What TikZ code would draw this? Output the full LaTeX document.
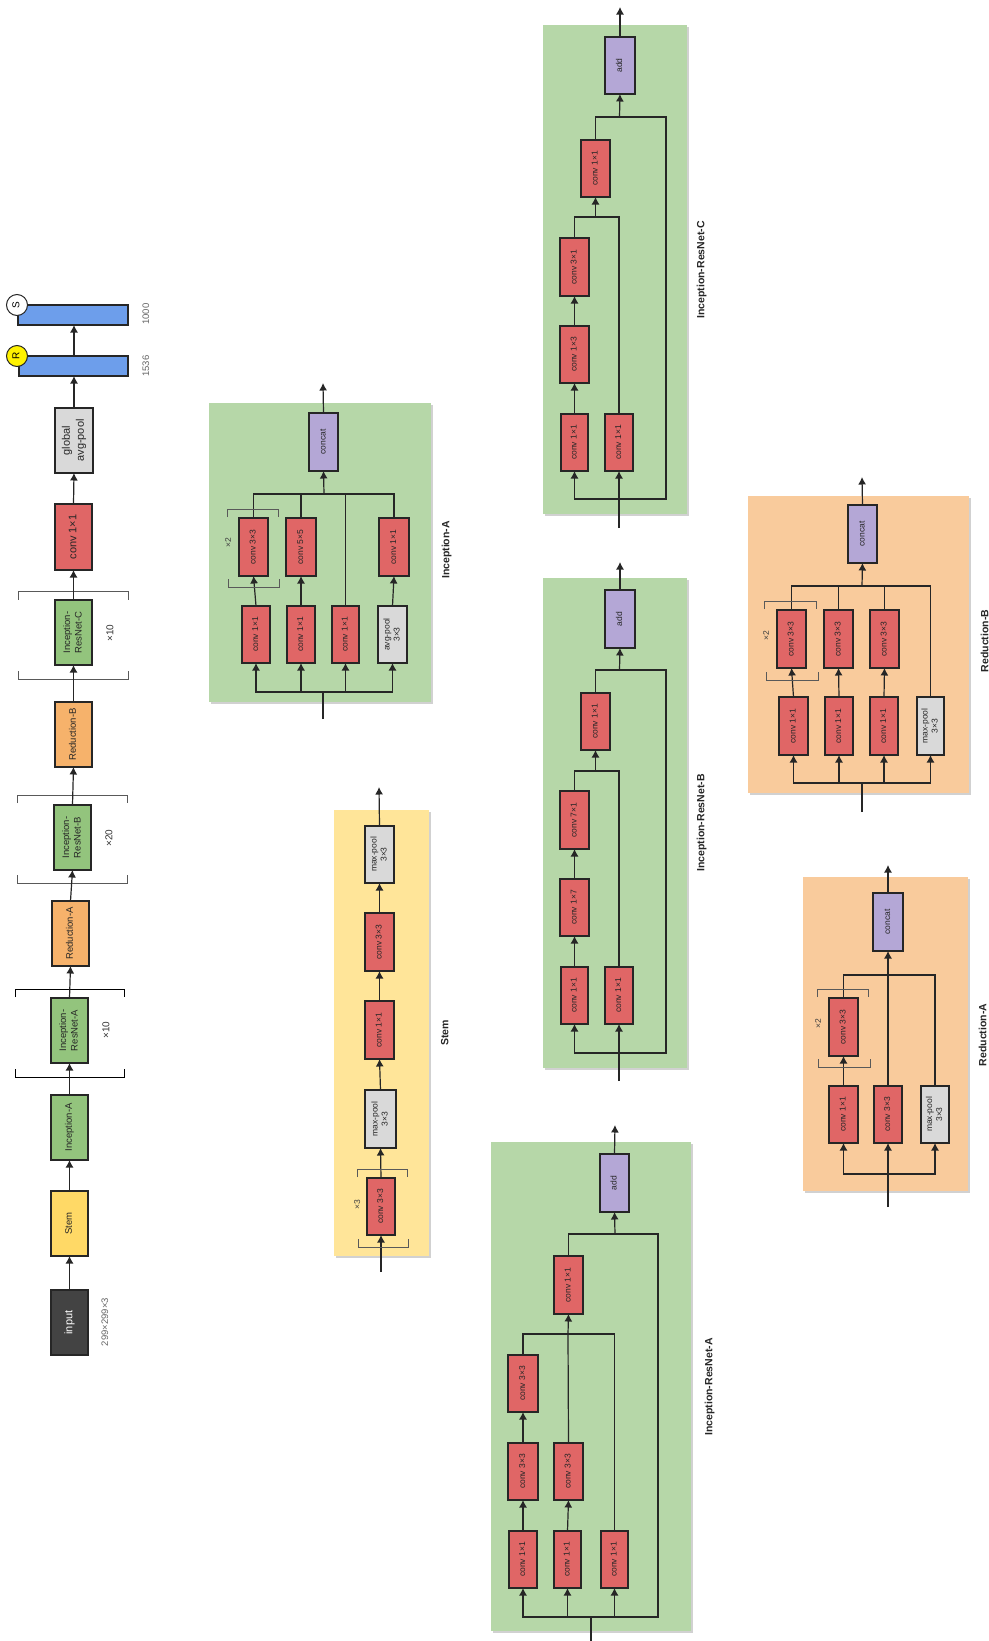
\documentclass[tikz,border=0pt]{standalone}
\usepackage{fontspec}
\setmainfont{Liberation Sans}
\usetikzlibrary{arrows.meta,shadows}
\definecolor{cred}{HTML}{E06666}
\definecolor{cgreen}{HTML}{93C47D}
\definecolor{corange}{HTML}{F6B26B}
\definecolor{cyellow}{HTML}{FFD966}
\definecolor{cgray}{HTML}{D9D9D9}
\definecolor{cpurple}{HTML}{B4A7D6}
\definecolor{cdark}{HTML}{434343}
\definecolor{cblue}{HTML}{6D9EEB}
\definecolor{pgreen}{HTML}{B6D7A8}
\definecolor{porange}{HTML}{F9CB9C}
\definecolor{pyellow}{HTML}{FFE599}
\definecolor{cline}{HTML}{262626}
\newcommand\rt[1]{\rotatebox{90}{\begin{tabular}{@{}c@{}}#1\end{tabular}}}
\newcommand\fsmall{\fontsize{8.5}{10}\selectfont}
\newcommand\fmid{\fontsize{9.5}{11.5}\selectfont}
\newcommand\fbig{\fontsize{11}{14}\selectfont}
% name, style, x1, x2, y1, y2, text
\newcommand\bx[7]{%
  \pgfmathsetmacro\bcx{(#3+#4)/2}\pgfmathsetmacro\bcy{(#5+#6)/2}%
  \pgfmathsetmacro\bw{#4-#3}\pgfmathsetmacro\bh{#6-#5}%
  \node[box,#2,minimum width=\bw pt,minimum height=\bh pt] (#1) at (\bcx,\bcy) {\rt{#7}};}
\newcommand\panel[6]{%
  \pgfmathsetmacro\bcx{(#3+#4)/2}\pgfmathsetmacro\bcy{(#5+#6)/2}%
  \pgfmathsetmacro\bw{#4-#3}\pgfmathsetmacro\bh{#6-#5}%
  \node[pan,fill=#2,minimum width=\bw pt,minimum height=\bh pt] (#1) at (\bcx,\bcy) {};}
% top bracket and bottom bracket: x1,x2,y top; x1,x2,y bottom
\newcommand\brk[7][]{%
  \draw[brkline,#1] (#2,#4+8) -- (#2,#4) -- (#3,#4) -- (#3,#4+8);
  \draw[brkline,#1] (#5,#7-8) -- (#5,#7) -- (#6,#7) -- (#6,#7-8);}
\tikzset{
  box/.style={draw=cline,line width=1.2pt,inner sep=0pt,outer sep=0pt,text=black!85,
    drop shadow={shadow xshift=1.2pt,shadow yshift=-1.2pt,opacity=.35,fill=black}},
  pan/.style={inner sep=0pt,outer sep=0pt,
    drop shadow={shadow xshift=1.5pt,shadow yshift=-1.5pt,opacity=.18,fill=black}},
  conv/.style={fill=cred,font=\fsmall},
  pool/.style={fill=cgray,font=\fsmall},
  merge/.style={fill=cpurple,font=\fsmall},
  ln/.style={draw=cline,line width=1.2pt},
  arr/.style={ln,-{Latex[length=7.5pt,width=8pt]}},
  brkline/.style={draw=black!65,line width=.6pt},
  ttl/.style={font=\fontsize{10.5}{12}\selectfont\bfseries,inner sep=0pt,text=black!85},
  cnt/.style={font=\fsmall,inner sep=0pt,text=black!75},
  dim/.style={font=\fontsize{9.5}{11}\selectfont,inner sep=0pt,text=black!60},
  tag/.style={circle,draw=cline,line width=1pt,inner sep=0pt,minimum size=21pt,font=\fontsize{10}{12}\selectfont},
}
\begin{document}
\begin{tikzpicture}[x=1pt,y=-1pt]
\useasboundingbox (0,0) rectangle (988,1641);

% ===== overview column =====
\bx{input}{fill=cdark,text=white,font=\fbig}{51}{88}{1290}{1355}{input}
\bx{ostem}{fill=cyellow,font=\fmid}{51}{88}{1191}{1256}{Stem}
\bx{oia}{fill=cgreen,font=\fmid}{51}{88}{1095}{1160}{Inception-A}
\bx{oira}{fill=cgreen,font=\fmid}{51}{88}{998}{1063}{Inception-\\ResNet-A}
\bx{ora}{fill=corange,font=\fmid}{52}{89}{901}{966}{Reduction-A}
\bx{oirb}{fill=cgreen,font=\fmid}{54}{91}{805}{870}{Inception-\\ResNet-B}
\bx{orb}{fill=corange,font=\fmid}{55}{92}{702}{767}{Reduction-B}
\bx{oirc}{fill=cgreen,font=\fmid}{55}{92}{600}{665}{Inception-\\ResNet-C}
\bx{oconv}{fill=cred,font=\fbig}{55}{92}{504}{570}{conv 1×1}
\bx{ogap}{fill=cgray,font=\fbig}{55}{93}{408}{473}{global\\avg-pool}
\bx{ob1}{fill=cblue}{19}{128}{356}{376}{}
\bx{ob2}{fill=cblue}{18}{128}{305}{325}{}
\node[tag,fill=yellow] (tagr) at (17,356) {\rt{R}};
\node[tag,fill=white] (tags) at (17,305) {\rt{S}};
\node[dim] (n1536) at (147,366) {\rt{1536}};
\node[dim] (n1000) at (147,314) {\rt{1000}};
\node[dim] (ninput) at (106,1322) {\rt{299×299×3}};
\node[dim,text=black!80,font=\fontsize{10}{12}\selectfont] (x10a) at (107,1030) {\rt{×10}};
\node[dim,text=black!80,font=\fontsize{10}{12}\selectfont] (x20) at (110,838) {\rt{×20}};
\node[dim,text=black!80,font=\fontsize{10}{12}\selectfont] (x10c) at (111,633) {\rt{×10}};
\brk[draw=black,line width=.8pt]{15}{124}{989}{15}{124}{1077}
\brk{17}{127}{795}{17}{127}{883}
\brk{18}{128}{591.5}{18}{128}{679}
\draw[arr] (input.north) -- (ostem.south);
\draw[arr] (ostem.north) -- (oia.south);
\draw[arr] (oia.north) -- (oira.south);
\draw[arr] (oira.north) -- (ora.south);
\draw[arr] (ora.north) -- (oirb.south);
\draw[arr] (oirb.north) -- (orb.south);
\draw[arr] (orb.north) -- (oirc.south);
\draw[arr] (oirc.north) -- (oconv.south);
\draw[arr] (oconv.north) -- (ogap.south);
\draw[arr] (ogap.north) -- (ogap.north |- ob1.south);
\draw[arr] (ogap.north |- ob1.north) -- (ogap.north |- ob2.south);

% ===== Stem =====
\panel{pstem}{pyellow}{334}{429}{810}{1256}
\bx{s1}{conv}{367}{395}{1178}{1235}{conv 3×3}
\bx{s2}{pool}{365}{396}{1090}{1148}{max-pool\\3×3}
\bx{s3}{conv}{365}{394}{1001}{1059}{conv 1×1}
\bx{s4}{conv}{365}{394}{913}{971}{conv 3×3}
\bx{s5}{pool}{365}{394}{826}{883}{max-pool\\3×3}
\coordinate (sin) at (381,1272);
\coordinate (sout) at (379,787);
\draw[arr] (sin) -- (s1.south);
\draw[arr] (s1.north) -- (s2.south);
\draw[arr] (s2.north) -- (s3.south);
\draw[arr] (s3.north) -- (s4.south);
\draw[arr] (s4.north) -- (s5.south);
\draw[arr] (s5.north) -- (sout);
\brk{357}{407}{1169}{358}{408}{1247}
\node[cnt] (sx) at (358,1205) {\rt{×3}};
\node[ttl] (stl) at (446,1033) {\rt{Stem}};

% ===== Inception-A =====
\panel{pia}{pgreen}{209}{431}{403}{702}
\bx{iac}{merge}{309}{338}{413}{471}{concat}
\bx{ia1}{conv}{239}{268}{518}{576}{conv 3×3}
\bx{ia2}{conv}{286}{316}{518}{576}{conv 5×5}
\bx{ia3}{conv}{379}{409}{518}{576}{conv 1×1}
\bx{ib1}{conv}{242}{270}{606}{663}{conv 1×1}
\bx{ib2}{conv}{287}{315}{606}{663}{conv 1×1}
\bx{ib3}{conv}{332}{359}{606}{663}{conv 1×1}
\bx{ib4}{pool}{378}{407}{606}{663}{avg-pool\\3×3}
\coordinate (iam) at (324,494);
\coordinate (ias) at (323,692);
\coordinate (iain) at (323,719);
\coordinate (iaout) at (323,383);
\draw[ln] (iain) -- (ias);
\draw[arr] (ias) -| (ib1.south);
\draw[arr] (ias) -| (ib2.south);
\draw[arr] (ias) -| (ib3.south);
\draw[arr] (ias) -| (ib4.south);
\draw[arr] (ib1.north) -- (ia1.south);
\draw[arr] (ib2.north) -- (ia2.south);
\draw[arr] (ib4.north) -- (ia3.south);
\draw[ln] (ia1.north) |- (iam);
\draw[ln] (ia2.north) |- (iam);
\draw[ln] (ib3.north) |- (iam);
\draw[ln] (ia3.north) |- (iam);
\draw[arr] (iam) -- (iac.south);
\draw[arr] (iac.north) -- (iaout);
\brk{227}{278}{509}{228}{279}{587}
\node[cnt] (iax) at (229,543) {\rt{×2}};
\node[ttl] (iat) at (447,550) {\rt{Inception-A}};

% ===== Inception-ResNet-A =====
\panel{pra}{pgreen}{491}{691}{1142}{1631}
\bx{raadd}{merge}{600}{629}{1154}{1212}{add}
\bx{rat}{conv}{554}{583}{1256}{1314}{conv 1×1}
\bx{ra1}{conv}{508}{538}{1355}{1412}{conv 3×3}
\bx{ra2}{conv}{508}{538}{1443}{1500}{conv 3×3}
\bx{ra3}{conv}{554}{583}{1443}{1500}{conv 3×3}
\bx{ra4}{conv}{509}{537}{1531}{1588}{conv 1×1}
\bx{ra5}{conv}{554}{581}{1531}{1588}{conv 1×1}
\bx{ra6}{conv}{601}{628}{1531}{1588}{conv 1×1}
\coordinate (ram) at (568,1334);
\coordinate (ram2) at (615,1234);
\coordinate (ras) at (591,1617);
\coordinate (rain) at (591,1641);
\coordinate (raout) at (615,1125);
\coordinate (rar) at (658,1617);
\coordinate (rar2) at (658,1234);
\draw[ln,line width=1.6pt] (rain) -- (ras);
\draw[arr] (ras) -| (ra4.south);
\draw[arr] (ras) -| (ra5.south);
\draw[arr] (ras) -| (ra6.south);
\draw[ln] (ras) -- (rar) -- (rar2) -- (ram2);
\draw[arr] (ra4.north) -- (ra2.south);
\draw[arr] (ra5.north) -- (ra3.south);
\draw[arr] (ra2.north) -- (ra1.south);
\draw[ln] (ra1.north) |- (ram);
\draw[ln] (ra6.north) |- (ram);
\draw[ln] (ra3.north) -- (ram);
\draw[arr] (ram) -- (rat.south);
\draw[ln] (rat.north) |- (ram2);
\draw[arr] (ram2) -- (raadd.south);
\draw[arr] (raadd.north) -- (raout);
\node[ttl] (rat2) at (710,1387) {\rt{Inception-ResNet-A}};

% ===== Inception-ResNet-B =====
\panel{prb}{pgreen}{543}{687}{578}{1068}
\bx{rbadd}{merge}{605}{635}{590}{648}{add}
\bx{rbt}{conv}{581}{610}{693}{750}{conv 1×1}
\bx{rb1}{conv}{560}{589}{791}{849}{conv 7×1}
\bx{rb2}{conv}{560}{589}{879}{936}{conv 1×7}
\bx{rb3}{conv}{561}{588}{967}{1024}{conv 1×1}
\bx{rb4}{conv}{605}{633}{967}{1024}{conv 1×1}
\coordinate (rbm) at (595.5,771);
\coordinate (rbm2) at (619.5,670);
\coordinate (rbs) at (619,1053);
\coordinate (rbin) at (619,1081);
\coordinate (rbout) at (620,562);
\coordinate (rbr) at (666,1053);
\coordinate (rbr2) at (666,670);
\draw[arr] (rbin) -- (rb4.south);
\draw[arr] (rbs) -| (rb3.south);
\draw[ln] (rbs) -- (rbr) -- (rbr2) -- (rbm2);
\draw[arr] (rb3.north) -- (rb2.south);
\draw[arr] (rb2.north) -- (rb1.south);
\draw[ln] (rb1.north) |- (rbm);
\draw[ln] (rb4.north) |- (rbm);
\draw[arr] (rbm) -- (rbt.south);
\draw[ln] (rbt.north) |- (rbm2);
\draw[arr] (rbm2) -- (rbadd.south);
\draw[arr] (rbadd.north) -- (rbout);
\node[ttl] (rbt2) at (702,823) {\rt{Inception-ResNet-B}};

% ===== Inception-ResNet-C =====
\panel{prc}{pgreen}{543}{687}{25}{514}
\bx{rcadd}{merge}{605}{635}{37}{94}{add}
\bx{rct}{conv}{581}{610}{140}{197}{conv 1×1}
\bx{rc1}{conv}{560}{589}{238}{296}{conv 3×1}
\bx{rc2}{conv}{560}{589}{326}{383}{conv 1×3}
\bx{rc3}{conv}{561}{588}{414}{471}{conv 1×1}
\bx{rc4}{conv}{605}{633}{414}{471}{conv 1×1}
\coordinate (rcm) at (595.5,217);
\coordinate (rcm2) at (619.5,117);
\coordinate (rcs) at (619,499);
\coordinate (rcin) at (619,528);
\coordinate (rcout) at (620,7);
\coordinate (rcr) at (666,499);
\coordinate (rcr2) at (666,117);
\draw[arr] (rcin) -- (rc4.south);
\draw[arr] (rcs) -| (rc3.south);
\draw[ln] (rcs) -- (rcr) -- (rcr2) -- (rcm2);
\draw[arr] (rc3.north) -- (rc2.south);
\draw[arr] (rc2.north) -- (rc1.south);
\draw[ln] (rc1.north) |- (rcm);
\draw[ln] (rc4.north) |- (rcm);
\draw[arr] (rcm) -- (rct.south);
\draw[ln] (rct.north) |- (rcm2);
\draw[arr] (rcm2) -- (rcadd.south);
\draw[arr] (rcadd.north) -- (rcout);
\node[ttl] (rct2) at (702,270) {\rt{Inception-ResNet-C}};

% ===== Reduction-B =====
\panel{pdb}{porange}{748}{969}{496}{793}
\bx{dbc}{merge}{848}{877}{505}{563}{concat}
\bx{db1}{conv}{777}{806}{610}{668}{conv 3×3}
\bx{db2}{conv}{824}{853}{610}{668}{conv 3×3}
\bx{db3}{conv}{870}{899}{610}{668}{conv 3×3}
\bx{db4}{conv}{779}{808}{697}{755}{conv 1×1}
\bx{db5}{conv}{825}{853}{697}{755}{conv 1×1}
\bx{db6}{conv}{870}{898}{697}{755}{conv 1×1}
\bx{db7}{pool}{917}{944}{697}{755}{max-pool\\3×3}
\coordinate (dbm) at (862,586);
\coordinate (dbs) at (862,783);
\coordinate (dbin) at (862,812);
\coordinate (dbout) at (862,477);
\draw[ln] (dbin) -- (dbs);
\draw[arr] (dbs) -| (db4.south);
\draw[arr] (dbs) -| (db5.south);
\draw[arr] (dbs) -| (db6.south);
\draw[arr] (dbs) -| (db7.south);
\draw[arr] (db4.north) -- (db1.south);
\draw[arr] (db5.north) -- (db2.south);
\draw[arr] (db6.north) -- (db3.south);
\draw[ln] (db1.north) |- (dbm);
\draw[ln] (db2.north) |- (dbm);
\draw[ln] (db3.north) |- (dbm);
\draw[ln] (db7.north) |- (dbm);
\draw[arr] (dbm) -- (dbc.south);
\draw[arr] (dbc.north) -- (dbout);
\brk{764}{816}{601}{766}{818}{680}
\node[cnt] (dbx) at (767,636) {\rt{×2}};
\node[ttl] (dbt) at (986,641) {\rt{Reduction-B}};

% ===== Reduction-A =====
\panel{pda}{porange}{803}{968}{877}{1191}
\bx{dac}{merge}{873}{903}{893}{951}{concat}
\bx{da1}{conv}{829}{858}{998}{1056}{conv 3×3}
\bx{da2}{conv}{829}{858}{1086}{1143}{conv 1×1}
\bx{da3}{conv}{874}{902}{1086}{1143}{conv 3×3}
\bx{da4}{pool}{921}{949}{1086}{1143}{max-pool\\3×3}
\coordinate (dam) at (888,975);
\coordinate (das) at (888,1174);
\coordinate (dain) at (888,1207);
\coordinate (daout) at (888,865);
\draw[ln] (dain) -- (das);
\draw[arr] (das) -- (da3.south);
\draw[arr] (das) -| (da2.south);
\draw[arr] (das) -| (da4.south);
\draw[arr] (da2.north) -- (da1.south);
\draw[ln] (da1.north) |- (dam);
\draw[ln] (da4.north) |- (dam);
\draw[arr] (da3.north) -- (dac.south);
\draw[arr] (dac.north) -- (daout);
\brk{817}{868}{989}{818}{870}{1067}
\node[cnt] (dax) at (819,1024) {\rt{×2}};
\node[ttl] (dat) at (984,1035) {\rt{Reduction-A}};
\end{tikzpicture}
\end{document}
